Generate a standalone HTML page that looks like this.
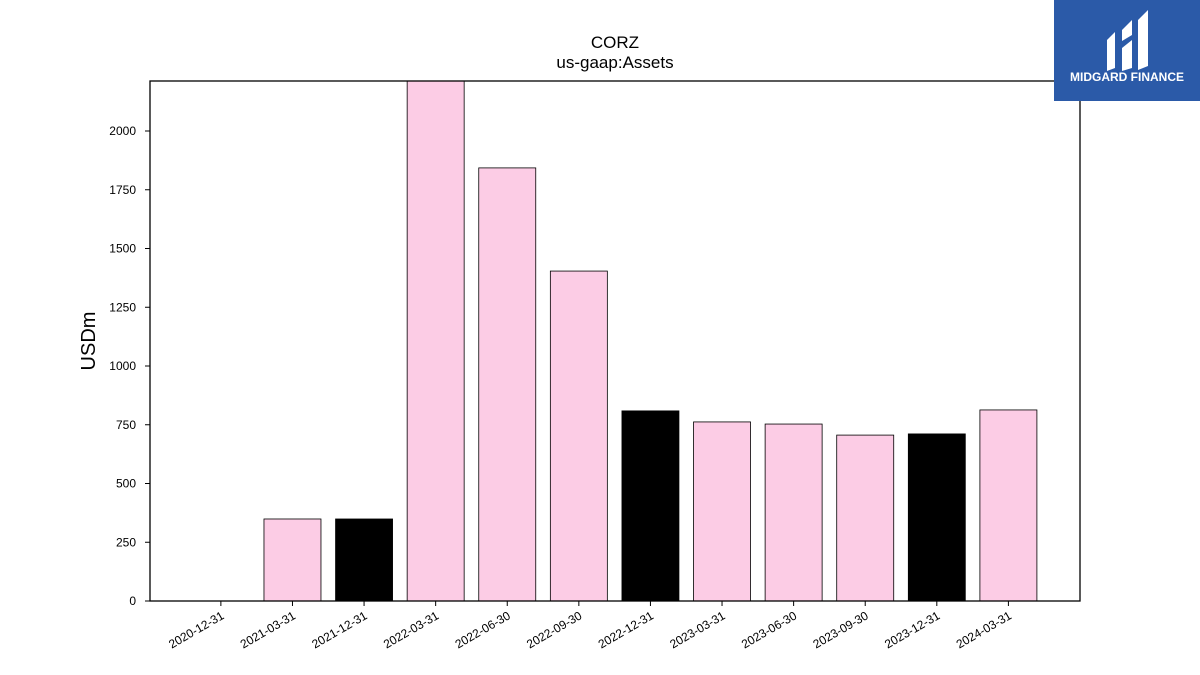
<!DOCTYPE html>
<html><head><meta charset="utf-8"><style>
body{margin:0;background:#fff;}
svg{display:block;font-family:"Liberation Sans","DejaVu Sans",sans-serif;}
</style></head><body>
<svg id="chart" width="1200" height="675">
<defs><clipPath id="plotclip"><rect x="150" y="81" width="930" height="520"/></clipPath></defs>
<text x="615" y="48" text-anchor="middle" font-size="17">CORZ</text>
<text x="615" y="68" text-anchor="middle" font-size="17">us-gaap:Assets</text>
<text transform="translate(95,341) rotate(-90)" text-anchor="middle" font-size="20">USDm</text>
<g id="bars" clip-path="url(#plotclip)"></g>
<g id="yticks"></g><g id="xticks"></g>
<rect x="150" y="81" width="930" height="520" fill="none" stroke="#000" stroke-width="1.3"/>
<g>
<rect x="1054" y="0" width="146" height="101" fill="#2b5aa8"/>
<path d="M1107 40 l8 -8 v36 l-8 3z M1122 30 l10 -10 v15 l-10 6z M1122 48 l10 -8 v28 l-10 3z M1138 20 l10 -10 v56 l-10 4z" fill="#fff"/>
<text x="1127" y="81" text-anchor="middle" font-size="12" font-weight="bold" fill="#fff">MIDGARD FINANCE</text>
</g>
</svg>
<script>
const categories=["2020-12-31","2021-03-31","2021-12-31","2022-03-31","2022-06-30","2022-09-30","2022-12-31","2023-03-31","2023-06-30","2023-09-30","2023-12-31","2024-03-31"];
const values=[0,349,349,2300,1843,1404,809,762,753,706,711,813];
const annual=[false,false,true,false,false,false,true,false,false,false,true,false];
const yTicks=[0,250,500,750,1000,1250,1500,1750,2000];
const NS="http://www.w3.org/2000/svg";
const x0=150,x1=1080,yTop=81,yBot=601,yMax=2212.8;
const xs=i=>x0+(i+0.99)/12.99*(x1-x0);
const ys=v=>yBot-v/yMax*(yBot-yTop);
const bw=57;
const gb=document.getElementById('bars'),gy=document.getElementById('yticks'),gx=document.getElementById('xticks');
categories.forEach((c,i)=>{
 const r=document.createElementNS(NS,'rect');
 const cx=xs(i),top=ys(values[i]);
 r.setAttribute('x',cx-bw/2);r.setAttribute('y',top);r.setAttribute('width',bw);r.setAttribute('height',Math.max(0,yBot-top));
 r.setAttribute('fill',annual[i]?'#000':'#fccce5');r.setAttribute('stroke','#000');r.setAttribute('stroke-width','0.8');
 
 
 gb.appendChild(r);
 const t=document.createElementNS(NS,'line');
 t.setAttribute('x1',cx);t.setAttribute('x2',cx);t.setAttribute('y1',yBot);t.setAttribute('y2',yBot+5);t.setAttribute('stroke','#000');
 
 
 gx.appendChild(t);
 const l=document.createElementNS(NS,'text');
 l.setAttribute('transform','translate('+(cx+4)+','+(yBot+17)+') rotate(-30)');
 l.setAttribute('text-anchor','end');l.setAttribute('font-size','12');l.textContent=c;
 
 
 gx.appendChild(l);
});
yTicks.forEach(v=>{
 const y=ys(v);
 const t=document.createElementNS(NS,'line');
 t.setAttribute('x1',x0-5);t.setAttribute('x2',x0);t.setAttribute('y1',y);t.setAttribute('y2',y);t.setAttribute('stroke','#000');
 
 
 gy.appendChild(t);
 const l=document.createElementNS(NS,'text');
 l.setAttribute('x',x0-14);l.setAttribute('y',y+4);l.setAttribute('text-anchor','end');l.setAttribute('font-size','12');l.textContent=v;
 
 
 gy.appendChild(l);
});
</script>
</body></html>
